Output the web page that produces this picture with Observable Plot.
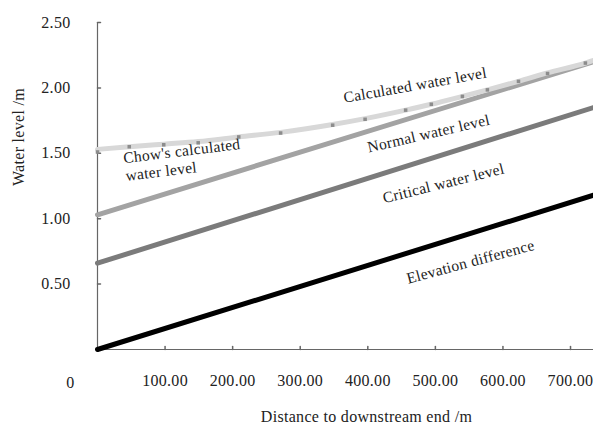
<!DOCTYPE html>
<html>
<head>
<meta charset="utf-8">
<script src="https://cdn.jsdelivr.net/npm/d3@7"></script>
<script src="https://cdn.jsdelivr.net/npm/@observablehq/plot@0.6"></script>
<style>
  html, body { margin: 0; padding: 0; background: #fff; }
  svg text { letter-spacing: 0.3px; }
</style>
</head>
<body>
<div id="chart"></div>
<script>
// Distances (m) and water levels (m)
const chowDist = [0, 47, 98, 149, 209, 271, 348, 396, 456, 494, 540, 577, 623, 666, 722];
const chowLevel = [1.51, 1.55, 1.565, 1.58, 1.625, 1.655, 1.715, 1.76, 1.83, 1.875, 1.935, 1.985, 2.05, 2.11, 2.19];
const calcDist = [0, 47, 98, 149, 209, 271, 348, 396, 456, 494, 540, 577, 623, 666, 722, 734];
const calcLevel = [1.53, 1.55, 1.57, 1.59, 1.625, 1.66, 1.72, 1.765, 1.83, 1.875, 1.935, 1.985, 2.05, 2.115, 2.19, 2.21];
const lineDist = [0, 734];
const normalLevel = [1.03, 2.20];
const criticalLevel = [0.66, 1.85];
const elevationLevel = [0.0, 1.18];
const xTicks = [100, 200, 300, 400, 500, 600, 700];
const yTicks = [0.5, 1.0, 1.5, 2.0, 2.5];
const labels = [
  {text: "Calculated water level", d: 470, v: 2.02, angle: -10},
  {text: "Normal water level", d: 490, v: 1.65, angle: -13},
  {text: "Critical water level", d: 512, v: 1.27, angle: -14},
  {text: "Elevation difference", d: 552, v: 0.67, angle: -15}
];
const chowLabel = {text: "Chow's calculated\nwater level", d: 37, v: 1.52, angle: -7};

const toRows = (xs, ys) => xs.map((d, i) => ({d, v: ys[i]}));
const tickShape = {draw(context, l) { context.moveTo(0, 0); context.lineTo(0, -l); }};

const plot = Plot.plot({
  width: 593,
  height: 427,
  marginLeft: 97,
  marginRight: 0,
  marginTop: 22,
  marginBottom: 78,
  x: {domain: [0, 734]},
  y: {domain: [0, 2.5]},
  style: {fontFamily: "Liberation Serif, Times New Roman, serif", fontSize: "16px", color: "#222", background: "#fff"},
  marks: [
    Plot.ruleX([0], {stroke: "#666", strokeWidth: 1.2}),
    Plot.ruleY([0], {stroke: "#666", strokeWidth: 1.2}),
    Plot.axisY(yTicks, {tickSize: 0, tickPadding: 27, tickFormat: d3.format(".2f"), label: null, fontSize: 16}),
    Plot.vector(yTicks, {x: 0, y: d => d, rotate: 90, length: 3, anchor: "start", shape: tickShape, stroke: "#666"}),
    Plot.axisX(xTicks, {tickSize: 0, tickPadding: 25, tickFormat: d3.format(".2f"), label: null, fontSize: 16}),
    Plot.vector(xTicks, {x: d => d, y: 0, rotate: 0, length: 3, anchor: "start", shape: tickShape, stroke: "#666"}),
    Plot.text(["0"], {x: 0, y: 0, dx: -27, dy: 33, fontSize: 16}),
    Plot.line(toRows(lineDist, elevationLevel), {x: "d", y: "v", stroke: "#000", strokeWidth: 5}),
    Plot.line(toRows(lineDist, criticalLevel), {x: "d", y: "v", stroke: "#7b7b7b", strokeWidth: 5}),
    Plot.line(toRows(lineDist, normalLevel), {x: "d", y: "v", stroke: "#a3a3a3", strokeWidth: 5}),
    Plot.line(toRows(calcDist, calcLevel), {x: "d", y: "v", stroke: "#d8d8d8", strokeWidth: 5, curve: "monotone-x"}),
    Plot.dot(toRows(chowDist, chowLevel), {x: "d", y: "v", symbol: "square", r: 2, fill: "#8c8c8c"}),
    Plot.text(labels, {x: "d", y: "v", text: "text", rotate: "angle", fontSize: 15.5, fill: "#222"}),
    Plot.text([chowLabel], {x: "d", y: "v", text: "text", rotate: "angle", textAnchor: "start", lineAnchor: "top", lineHeight: 1.15, fontSize: 15.5, fill: "#222"}),
    Plot.text(["Water level /m"], {frameAnchor: "left", rotate: -90, dx: -79, fontSize: 16, fill: "#222"}),
    Plot.text(["Distance to downstream end /m"], {frameAnchor: "bottom", dx: 21, dy: 72, fontSize: 16, fill: "#222"})
  ]
});
document.getElementById("chart").appendChild(plot);
</script>
</body>
</html>
